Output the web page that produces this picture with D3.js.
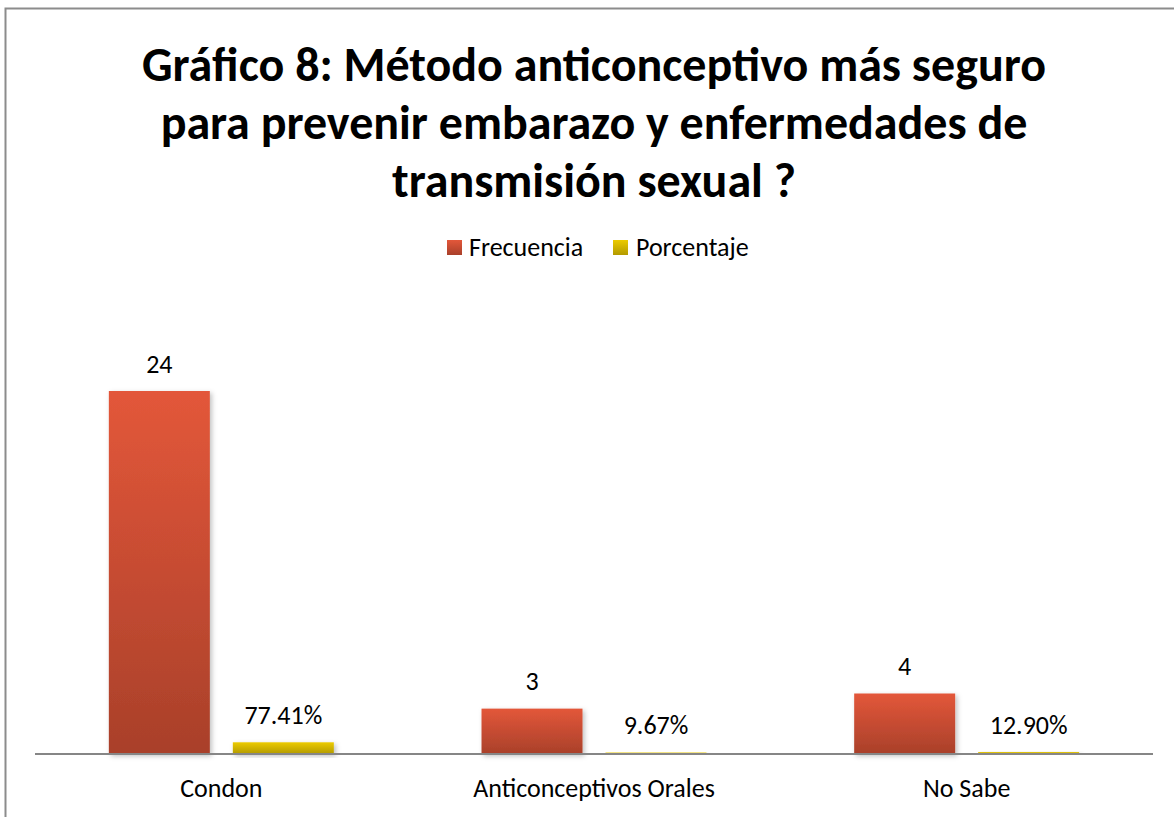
<!DOCTYPE html>
<html>
<head>
<meta charset="utf-8">
<script src="https://cdn.jsdelivr.net/npm/d3@7/dist/d3.min.js"></script>
<style>
  html, body { margin: 0; padding: 0; background: #ffffff; }
  svg { display: block; }
  text { font-family: Carlito, Lato, "Open Sans", sans-serif; fill: #000; }
</style>
</head>
<body>
<svg id="chart" width="1174" height="817"></svg>
<script>
// ---- data ----
const titleLines = [
  "Gráfico 8: Método anticonceptivo más seguro",
  "para prevenir embarazo y enfermedades de",
  "transmisión sexual ?"
];
const categories = ["Condon", "Anticonceptivos Orales", "No Sabe"];
const seriesNames = ["Frecuencia", "Porcentaje"];
const frecuencia = [24, 3, 4];
const porcentaje = [0.7741, 0.0967, 0.1290];
const yDomain = [0, 30];

// ---- layout ----
const W = 1174, H = 817;
const plot = { left: 35, right: 1153, top: 300.25, bottom: 754 };
const FS = 26;
const svg = d3.select("#chart");

const defs = svg.append("defs");
const grads = [
  { id: "gFrec", top: "#E3573A", bottom: "#A9402A" },
  { id: "gPorc", top: "#ECCB00", bottom: "#B39A00" }
];
grads.forEach(g => {
  const lg = defs.append("linearGradient").attr("id", g.id)
    .attr("x1", 0).attr("y1", 0).attr("x2", 0).attr("y2", 1);
  lg.append("stop").attr("offset", "0%").attr("stop-color", g.top);
  lg.append("stop").attr("offset", "100%").attr("stop-color", g.bottom);
});
const f = defs.append("filter").attr("id", "shadow")
  .attr("x", "-20%").attr("y", "-20%").attr("width", "150%").attr("height", "150%");
f.append("feDropShadow").attr("dx", 2).attr("dy", 2).attr("stdDeviation", 2.5)
  .attr("flood-color", "#000").attr("flood-opacity", 0.25);

// outer border (chart area extends past right/bottom edges)
svg.append("rect")
  .attr("x", 5.5).attr("y", 8.5).attr("width", W + 20).attr("height", H + 20)
  .attr("fill", "#fff").attr("stroke", "#8c8c8c").attr("stroke-width", 2);

// title
svg.append("g").selectAll("text").data(titleLines).join("text")
  .attr("x", 594).attr("y", (d, i) => 81 + i * 58)
  .attr("text-anchor", "middle")
  .attr("font-size", 48).attr("font-weight", "bold")
  .text(d => d);

// legend
const legendItems = [
  { name: seriesNames[0], fill: "url(#gFrec)", sx: 447, tx: 469 },
  { name: seriesNames[1], fill: "url(#gPorc)", sx: 613, tx: 636 }
];
const lg = svg.append("g");
lg.selectAll("rect").data(legendItems).join("rect")
  .attr("x", d => d.sx).attr("y", 240).attr("width", 15).attr("height", 15)
  .attr("fill", d => d.fill);
lg.selectAll("text").data(legendItems).join("text")
  .attr("x", d => d.tx).attr("y", 256)
  .attr("font-size", FS)
  .text(d => d.name);

// scales
const x0 = d3.scaleBand().domain(categories)
  .range([plot.left, plot.right])
  .paddingInner(0.3963).paddingOuter(0.3963 / 2);
const x1 = d3.scaleBand().domain(seriesNames)
  .range([0, x0.bandwidth()]).paddingInner(0.1855).paddingOuter(0);
const y = d3.scaleLinear().domain(yDomain).range([plot.bottom, plot.top]);

const rows = categories.map((c, i) => ({
  cat: c,
  vals: [
    { s: seriesNames[0], v: frecuencia[i], label: String(frecuencia[i]), fill: "url(#gFrec)" },
    { s: seriesNames[1], v: porcentaje[i], label: d3.format(".2%")(porcentaje[i]), fill: "url(#gPorc)" }
  ]
}));

const groups = svg.append("g").selectAll("g").data(rows).join("g")
  .attr("transform", d => `translate(${x0(d.cat)},0)`);

groups.selectAll("rect").data(d => d.vals).join("rect")
  .attr("x", d => x1(d.s))
  .attr("y", d => y(d.v))
  .attr("width", x1.bandwidth())
  .attr("height", d => y(0) - y(d.v))
  .attr("fill", d => d.fill)
  .attr("filter", "url(#shadow)");

groups.selectAll("text").data(d => d.vals).join("text")
  .attr("x", d => x1(d.s) + x1.bandwidth() / 2)
  .attr("y", d => y(d.v) - 18.5)
  .attr("text-anchor", "middle")
  .attr("font-size", FS)
  .text(d => d.label);

// x axis
const xAxis = svg.append("g").attr("transform", `translate(0,${plot.bottom})`)
  .call(d3.axisBottom(x0).tickSize(0).tickPadding(0));
xAxis.select(".domain").attr("stroke", "#868686").attr("stroke-width", 2)
  .attr("d", `M${plot.left},0H${plot.right}`);
xAxis.selectAll(".tick text")
  .attr("y", 43).attr("dy", null)
  .attr("font-size", FS)
  .attr("fill", "#000")
  .style("font-family", "Carlito, Lato, 'Open Sans', sans-serif");
</script>
</body>
</html>
